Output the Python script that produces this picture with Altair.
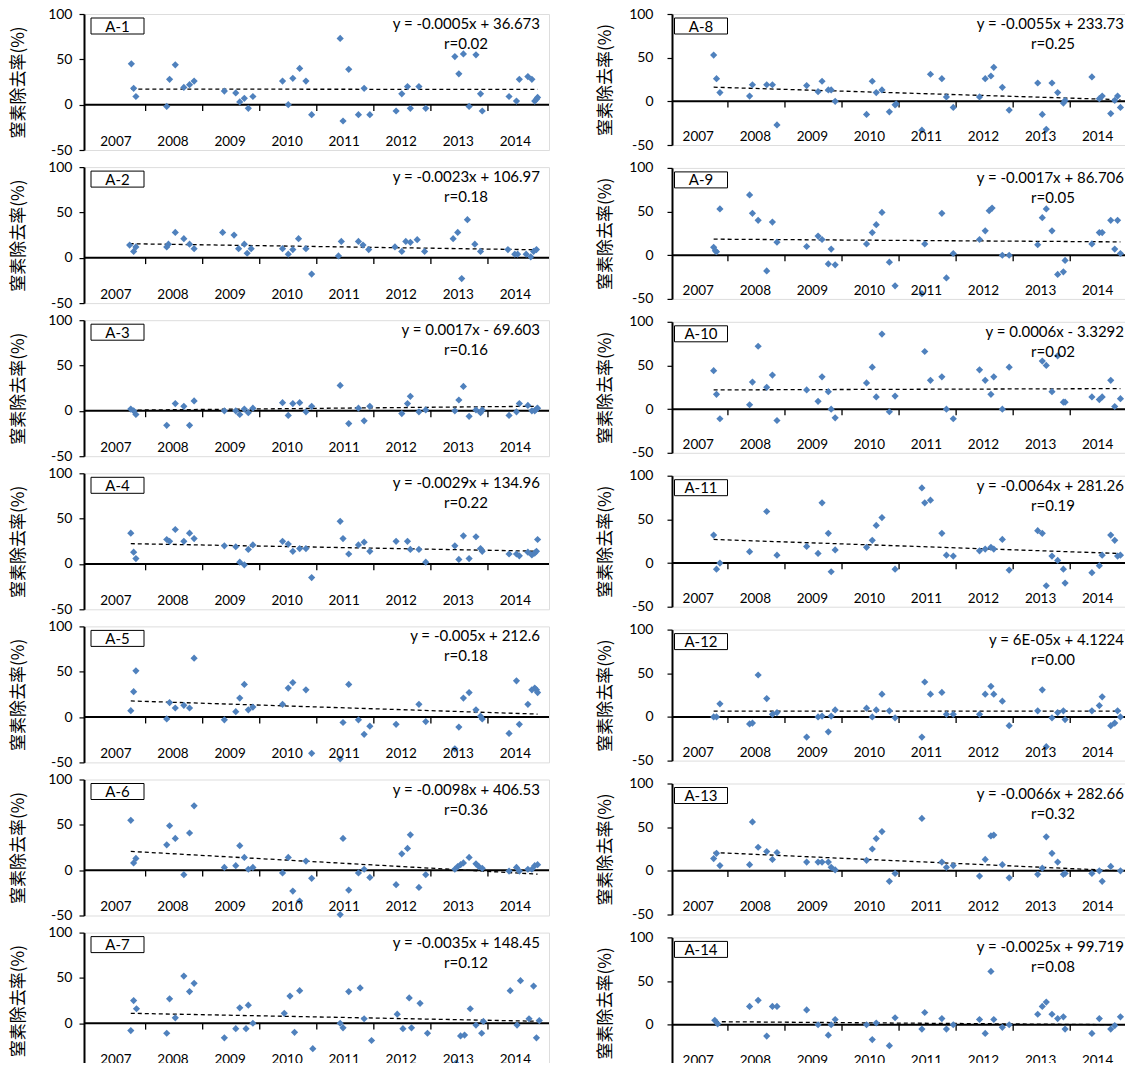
import altair as alt
import pandas as pd

# ---------------- data (decimal year, removal rate %) ----------------
A1 = [(2007.75, 45), (2007.79, 18), (2007.83, 9), (2008.37, -2), (2008.42, 28), (2008.52, 44),
      (2008.67, 19), (2008.77, 22), (2008.85, 26), (2009.38, 15), (2009.58, 13), (2009.65, 3),
      (2009.73, 7), (2009.80, -4), (2009.88, 9), (2010.40, 26), (2010.50, 0), (2010.58, 29),
      (2010.70, 40), (2010.81, 26), (2010.91, -11), (2011.41, 73), (2011.46, -18), (2011.56, 39),
      (2011.73, -11), (2011.83, 18), (2011.93, -11), (2012.39, -7), (2012.49, 12), (2012.59, 20),
      (2012.64, -4), (2012.79, 20), (2012.91, -4), (2013.42, 53), (2013.49, 34), (2013.57, 56),
      (2013.67, -2), (2013.79, 55), (2013.87, 12), (2013.90, -7), (2014.37, 9), (2014.50, 4),
      (2014.55, 28), (2014.70, 31), (2014.77, 28), (2014.82, 4), (2014.85, 6), (2014.87, 8)]
A2 = [(2007.72, 14), (2007.79, 7), (2007.83, 12), (2008.37, 12), (2008.40, 15), (2008.52, 28),
      (2008.67, 21), (2008.77, 15), (2008.85, 10), (2009.35, 28), (2009.55, 25), (2009.63, 10),
      (2009.73, 15), (2009.78, 5), (2009.85, 10), (2010.40, 10), (2010.50, 4), (2010.58, 9),
      (2010.68, 21), (2010.81, 10), (2010.91, -18), (2011.38, 2), (2011.43, 18), (2011.73, 18),
      (2011.81, 14), (2011.91, 9), (2012.37, 12), (2012.49, 7), (2012.56, 18), (2012.64, 17),
      (2012.76, 20), (2012.89, 7), (2013.39, 21), (2013.47, 28), (2013.54, -23), (2013.64, 42),
      (2013.77, 15), (2013.87, 7), (2014.35, 9), (2014.47, 4), (2014.52, 4), (2014.67, 4),
      (2014.75, 1), (2014.80, 7), (2014.85, 9)]
A3 = [(2007.74, 2), (2007.79, 0), (2007.83, -4), (2008.37, -16), (2008.52, 8), (2008.67, 5),
      (2008.77, -16), (2008.85, 11), (2009.38, 0), (2009.58, 0), (2009.65, -4), (2009.73, 2),
      (2009.80, -2), (2009.88, 3), (2010.40, 9), (2010.50, -5), (2010.58, 8), (2010.70, 9),
      (2010.81, -1), (2010.91, 5), (2011.41, 28), (2011.56, -14), (2011.73, 3), (2011.83, -11),
      (2011.93, 5), (2012.49, -3), (2012.59, 8), (2012.64, 16), (2012.79, -1), (2012.91, 1),
      (2013.42, 0), (2013.49, 12), (2013.57, 27), (2013.67, -6), (2013.79, 1), (2013.87, -2),
      (2013.90, 1), (2014.37, -5), (2014.50, -1), (2014.55, 8), (2014.70, 6), (2014.77, 0),
      (2014.82, 0), (2014.85, 2), (2014.87, 3)]
A4 = [(2007.74, 34), (2007.79, 13), (2007.83, 6), (2008.37, 27), (2008.42, 25), (2008.52, 38),
      (2008.67, 25), (2008.77, 34), (2008.85, 28), (2009.38, 20), (2009.58, 19), (2009.65, 2),
      (2009.73, -1), (2009.80, 16), (2009.88, 21), (2010.40, 25), (2010.50, 22), (2010.58, 14),
      (2010.70, 17), (2010.81, 17), (2010.91, -15), (2011.41, 47), (2011.46, 28), (2011.56, 11),
      (2011.73, 21), (2011.83, 24), (2011.93, 14), (2012.39, 25), (2012.59, 25), (2012.64, 16),
      (2012.79, 16), (2012.91, 2), (2013.42, 20), (2013.49, 5), (2013.57, 31), (2013.67, 6),
      (2013.79, 30), (2013.87, 17), (2013.90, 14), (2014.37, 11), (2014.50, 11), (2014.55, 9),
      (2014.70, 13), (2014.77, 10), (2014.82, 12), (2014.85, 14), (2014.87, 27)]
A5 = [(2007.74, 7), (2007.79, 28), (2007.83, 51), (2008.37, -2), (2008.42, 16), (2008.52, 10),
      (2008.67, 13), (2008.77, 10), (2008.85, 65), (2009.38, -3), (2009.58, 6), (2009.65, 21),
      (2009.73, 36), (2009.80, 8), (2009.88, 11), (2010.40, 14), (2010.50, 32), (2010.58, 38),
      (2010.81, 30), (2010.91, -40), (2011.41, -46), (2011.46, -6), (2011.56, 36), (2011.73, -3),
      (2011.83, -19), (2011.93, -10), (2012.39, -8), (2012.79, 14), (2012.91, -5), (2013.42, -35),
      (2013.49, -11), (2013.57, 21), (2013.67, 27), (2013.79, 8), (2013.87, 1), (2013.90, -2),
      (2014.37, -18), (2014.50, 40), (2014.55, -8), (2014.70, 14), (2014.77, 30), (2014.82, 32),
      (2014.85, 30), (2014.87, 27)]
A6 = [(2007.74, 55), (2007.79, 8), (2007.83, 13), (2008.37, 28), (2008.42, 49), (2008.52, 35),
      (2008.67, -5), (2008.77, 41), (2008.85, 71), (2009.38, 3), (2009.58, 5), (2009.65, 27),
      (2009.73, 14), (2009.80, 1), (2009.88, 3), (2010.40, -3), (2010.50, 14), (2010.58, -23),
      (2010.70, -34), (2010.81, 10), (2010.91, -9), (2011.41, -49), (2011.46, 35), (2011.56, -22),
      (2011.73, -3), (2011.83, 1), (2011.93, -8), (2012.39, -16), (2012.49, 18), (2012.59, 24),
      (2012.64, 39), (2012.79, -19), (2012.91, -5), (2013.42, 1), (2013.47, 4), (2013.52, 6),
      (2013.57, 8), (2013.67, 14), (2013.79, 7), (2013.84, 4), (2013.90, 2), (2014.37, -1),
      (2014.50, 3), (2014.55, -1), (2014.70, 1), (2014.77, 1), (2014.82, 5), (2014.87, 6)]
A7 = [(2007.74, -8), (2007.79, 25), (2007.84, 16), (2008.37, -11), (2008.42, 27), (2008.52, 6),
      (2008.67, 52), (2008.77, 35), (2008.85, 44), (2009.38, -16), (2009.58, -6), (2009.65, 17),
      (2009.76, -6), (2009.80, 20), (2009.88, 0), (2010.43, 11), (2010.53, 30), (2010.61, -10),
      (2010.70, 36), (2010.93, -28), (2011.41, 0), (2011.46, -5), (2011.56, 35), (2011.76, 39),
      (2011.83, 5), (2011.96, -19), (2012.41, 10), (2012.51, -6), (2012.62, 28), (2012.66, -5),
      (2012.81, 22), (2012.94, -11), (2013.44, -44), (2013.52, -14), (2013.59, -13), (2013.69, 16),
      (2013.79, -2), (2013.89, -11), (2013.92, 2), (2014.39, 36), (2014.51, -2), (2014.57, 47),
      (2014.72, 5), (2014.80, 41), (2014.85, -16), (2014.90, 3)]
A8 = [(2007.75, 53), (2007.80, 26), (2007.86, 10), (2008.38, 6), (2008.43, 19), (2008.68, 19),
      (2008.78, 19), (2008.86, -27), (2009.38, 18), (2009.58, 11), (2009.65, 23), (2009.76, 13),
      (2009.81, 13), (2009.88, 0), (2010.43, -15), (2010.53, 23), (2010.60, 10), (2010.70, 13),
      (2010.83, -12), (2010.93, -4), (2010.95, -3), (2011.40, -33), (2011.55, 31), (2011.75, 26),
      (2011.83, 5), (2011.95, -7), (2012.41, 5), (2012.51, 26), (2012.61, 29), (2012.66, 39),
      (2012.81, 16), (2012.93, -10), (2013.43, 21), (2013.51, -15), (2013.58, -32), (2013.68, 21),
      (2013.78, 10), (2013.88, -2), (2013.91, 1), (2014.38, 28), (2014.51, 3), (2014.56, 6),
      (2014.71, -14), (2014.78, 1), (2014.83, 6), (2014.88, -7)]
A9 = [(2007.75, 9), (2007.78, 5), (2007.80, 4), (2007.86, 53), (2008.38, 69), (2008.43, 48),
      (2008.53, 40), (2008.68, -18), (2008.78, 38), (2008.86, 15), (2009.38, 10), (2009.58, 22),
      (2009.65, 18), (2009.76, -10), (2009.81, 7), (2009.88, -11), (2010.43, 13), (2010.53, 26),
      (2010.60, 35), (2010.70, 49), (2010.83, -8), (2010.93, -35), (2011.40, -44), (2011.45, 13),
      (2011.75, 48), (2011.83, -26), (2011.95, 2), (2012.41, 18), (2012.51, 28), (2012.58, 51),
      (2012.63, 54), (2012.81, 0), (2012.93, 0), (2013.43, 12), (2013.51, 43), (2013.58, 53),
      (2013.68, 28), (2013.78, -22), (2013.88, -19), (2013.91, -6), (2014.38, 13), (2014.51, 26),
      (2014.56, 26), (2014.71, 40), (2014.78, 7), (2014.83, 40), (2014.88, 2)]
A10 = [(2007.75, 44), (2007.80, 17), (2007.86, -11), (2008.38, 5), (2008.43, 31), (2008.53, 72),
       (2008.68, 25), (2008.78, 39), (2008.86, -13), (2009.38, 22), (2009.58, 9), (2009.65, 37),
       (2009.76, 20), (2009.81, 0), (2009.88, -10), (2010.43, 30), (2010.53, 48), (2010.60, 14),
       (2010.70, 86), (2010.83, -3), (2010.93, 15), (2011.45, 66), (2011.55, 33), (2011.75, 37),
       (2011.83, 0), (2011.95, -11), (2012.41, 45), (2012.51, 33), (2012.61, 17), (2012.66, 37),
       (2012.81, 0), (2012.93, 48), (2013.51, 55), (2013.58, 50), (2013.68, 20), (2013.78, 61),
       (2013.88, 8), (2013.91, 8), (2014.38, 14), (2014.51, 11), (2014.56, 14), (2014.71, 33),
       (2014.78, 3), (2014.88, 12)]
A11 = [(2007.75, 32), (2007.80, -7), (2007.86, 0), (2008.38, 13), (2008.68, 59), (2008.86, 9),
       (2009.38, 19), (2009.58, 11), (2009.65, 69), (2009.76, 34), (2009.81, -10), (2009.88, 15),
       (2010.43, 18), (2010.53, 26), (2010.60, 43), (2010.70, 52), (2010.93, -7), (2011.40, 86),
       (2011.45, 69), (2011.55, 72), (2011.75, 34), (2011.83, 9), (2011.95, 8), (2012.41, 14),
       (2012.51, 16), (2012.61, 18), (2012.66, 16), (2012.81, 27), (2012.93, -8), (2013.43, 37),
       (2013.51, 34), (2013.58, -26), (2013.68, 8), (2013.78, 3), (2013.88, -7), (2013.91, -23),
       (2014.38, -11), (2014.51, -3), (2014.56, 9), (2014.71, 32), (2014.78, 26), (2014.83, 8),
       (2014.88, 9)]
A12 = [(2007.75, 0), (2007.80, 0), (2007.86, 15), (2008.38, -8), (2008.43, -7), (2008.53, 48),
       (2008.68, 21), (2008.78, 3), (2008.86, 5), (2009.38, -23), (2009.58, 0), (2009.65, 1),
       (2009.76, -17), (2009.81, 1), (2009.88, 8), (2010.43, 10), (2010.53, 0), (2010.60, 8),
       (2010.70, 26), (2010.83, 7), (2010.93, -1), (2011.40, -23), (2011.45, 40), (2011.55, 26),
       (2011.75, 28), (2011.83, 3), (2011.95, 3), (2012.41, 3), (2012.51, 26), (2012.61, 35),
       (2012.66, 26), (2012.81, 18), (2012.93, -10), (2013.43, 7), (2013.51, 31), (2013.58, -34),
       (2013.68, -1), (2013.78, 5), (2013.88, 7), (2013.91, -3), (2014.38, 7), (2014.51, 13),
       (2014.56, 23), (2014.71, -10), (2014.78, -7), (2014.83, 7), (2014.88, 0)]
A13 = [(2007.75, 14), (2007.80, 20), (2007.86, 6), (2008.38, 7), (2008.43, 56), (2008.53, 27),
       (2008.68, 22), (2008.78, 13), (2008.86, 21), (2009.38, 10), (2009.58, 10), (2009.65, 10),
       (2009.76, 10), (2009.81, 4), (2009.88, 1), (2010.43, 12), (2010.53, 25), (2010.60, 37),
       (2010.70, 45), (2010.83, -12), (2010.93, -3), (2011.40, 60), (2011.75, 10), (2011.83, 4),
       (2011.95, 6), (2012.41, -6), (2012.51, 13), (2012.61, 40), (2012.66, 41), (2012.81, 7),
       (2012.93, -8), (2013.43, -4), (2013.51, 3), (2013.58, 39), (2013.68, 20), (2013.78, 10),
       (2013.88, -4), (2013.91, -3), (2014.38, -3), (2014.51, 0), (2014.56, -12), (2014.71, 5),
       (2014.88, 0)]
A14 = [(2007.77, 5), (2007.82, 1), (2008.38, 21), (2008.53, 28), (2008.68, -13), (2008.78, 21),
       (2008.86, 21), (2009.38, 17), (2009.58, 0), (2009.76, -12), (2009.81, 0), (2009.88, 6),
       (2010.43, 0), (2010.53, -17), (2010.60, 2), (2010.83, -24), (2010.93, 8), (2011.40, -5),
       (2011.45, 14), (2011.75, 7), (2011.83, -5), (2011.95, 0), (2012.41, 6), (2012.51, -10),
       (2012.61, 61), (2012.66, 6), (2012.81, -3), (2012.93, 0), (2013.43, 12), (2013.51, 21),
       (2013.58, 26), (2013.68, 12), (2013.78, 7), (2013.88, 9), (2013.91, -5), (2014.38, -10),
       (2014.51, 7), (2014.71, -5), (2014.78, -1), (2014.88, 9)]

PANEL_NAMES = ["A-1", "A-2", "A-3", "A-4", "A-5", "A-6", "A-7",
               "A-8", "A-9", "A-10", "A-11", "A-12", "A-13", "A-14"]
EQUATIONS = ["y = -0.0005x + 36.673", "y = -0.0023x + 106.97", "y = 0.0017x - 69.603",
             "y = -0.0029x + 134.96", "y = -0.005x + 212.6", "y = -0.0098x + 406.53",
             "y = -0.0035x + 148.45", "y = -0.0055x + 233.73", "y = -0.0017x + 86.706",
             "y = 0.0006x - 3.3292", "y = -0.0064x + 281.26", "y = 6E-05x + 4.1224",
             "y = -0.0066x + 282.66", "y = -0.0025x + 99.719"]
R_TEXT = ["r=0.02", "r=0.18", "r=0.16", "r=0.22", "r=0.18", "r=0.36", "r=0.12",
          "r=0.25", "r=0.05", "r=0.02", "r=0.19", "r=0.00", "r=0.32", "r=0.08"]
# trend line values at the first and last sample
TREND_START = [17.2, 15.5, 0.8, 22.4, 17.8, 20.7, 11.0, 16.2, 18.4, 22.0, 27.0, 6.6, 21.0, 3.5]
TREND_END = [16.8, 8.8, 5.1, 14.1, 3.3, -4.4, 2.2, 1.9, 15.3, 23.5, 10.9, 6.6, 0.0, 0.0]
POINTS = [A1, A2, A3, A4, A5, A6, A7, A8, A9, A10, A11, A12, A13, A14]

YEARS = [2007, 2008, 2009, 2010, 2011, 2012, 2013, 2014]
Y_TICKS = [-50, 0, 50, 100]

FONT = "Lato"
CJK = "Noto Sans CJK JP"
BLUE = "#4F81BD"


def make_panel(i, side):
    if side == "left":
        domain, w, h, lab_pad, t_pad = [2006.92, 2015.07], 465, 136, 7, 20
        eq_x, r_x, box_x0 = 456, 382, 7
    else:
        domain, w, h, lab_pad, t_pad = [2007.02, 2014.96], 453, 131, 14, 14
        eq_x, r_x, box_x0 = 452, 381, 2.5

    xs = alt.Scale(domain=domain, nice=False, zero=False)
    ys = alt.Scale(domain=[-50, 100], nice=False, zero=False)
    X = alt.X("t:Q", scale=xs, axis=None)
    Y = alt.Y("v:Q", scale=ys, axis=alt.Axis(
        values=Y_TICKS, title="窒素除去率(%)", grid=False,
        labelExpr="'' + datum.value", labelPadding=lab_pad,
        labelFont=FONT, labelFontSize=14, labelColor="black",
        tickColor="black", tickSize=5, tickWidth=1.2,
        domainColor="black", domainWidth=2,
        titleFont=CJK, titleFontSize=17, titleFontWeight="normal",
        titleColor="black", titlePadding=t_pad))

    pts = pd.DataFrame(POINTS[i], columns=["t", "v"])
    trend_df = pd.DataFrame({"t": [pts["t"].iloc[0], pts["t"].iloc[-1]],
                             "v": [TREND_START[i], TREND_END[i]]})
    zero_df = pd.DataFrame({"v": [0]})
    tick_df = pd.DataFrame({"t": YEARS[1:], "v": [0] * 7, "v2": [-7] * 7})
    lab_df = pd.DataFrame({"t": [y + 0.48 for y in YEARS], "v": [-41] * 8,
                           "label": [str(y) for y in YEARS]})

    zero = alt.Chart(zero_df).mark_rule(color="black", strokeWidth=2).encode(y=Y)
    ticks = alt.Chart(tick_df).mark_rule(color="black", strokeWidth=1.3).encode(
        x=X, y=Y, y2="v2:Q")
    trend = alt.Chart(trend_df).mark_line(color="black", strokeDash=[4, 3],
                                          strokeWidth=1.3).encode(x=X, y=Y)
    points = alt.Chart(pts).mark_point(shape="diamond", filled=True, size=52,
                                       color=BLUE, opacity=1).encode(x=X, y=Y)
    years = alt.Chart(lab_df).mark_text(font=FONT, fontSize=13.5, color="black",
                                        baseline="middle", align="center").encode(
        x=X, y=Y, text="label:N")

    name_df = pd.DataFrame({"label": [PANEL_NAMES[i]]})
    box = alt.Chart(name_df).mark_rect(fill="white", stroke="black", strokeWidth=1).encode(
        x=alt.value(box_x0), x2=alt.value(box_x0 + 53), y=alt.value(4), y2=alt.value(20))
    box_txt = alt.Chart(name_df).mark_text(font=FONT, fontSize=15, color="black",
                                           align="center", baseline="middle").encode(
        x=alt.value(box_x0 + 26.5), y=alt.value(12.5), text="label:N")
    eq = alt.Chart(pd.DataFrame({"label": [EQUATIONS[i]]})).mark_text(
        font=FONT, fontSize=15, color="black", align="right", baseline="middle").encode(
        x=alt.value(eq_x), y=alt.value(10), text="label:N")
    rr = alt.Chart(pd.DataFrame({"label": [R_TEXT[i]]})).mark_text(
        font=FONT, fontSize=15, color="black", align="center", baseline="middle").encode(
        x=alt.value(r_x), y=alt.value(30), text="label:N")

    return alt.layer(zero, ticks, trend, points, years, box, box_txt, eq, rr).properties(
        width=w, height=h)


left = alt.vconcat(*[make_panel(i, "left") for i in range(7)], spacing=17.1, bounds="flush")
right = alt.vconcat(*[make_panel(i, "right") for i in range(7, 14)], spacing=22.9,
                    bounds="flush")

chart = alt.hconcat(left, right, spacing=45).properties(
    padding={"left": 9, "top": 6, "right": -2, "bottom": -14}
).configure_view(stroke="black", strokeWidth=1.2).configure(background="white")

chart.save("out.html", embed_options={"renderer": "svg", "actions": False})
